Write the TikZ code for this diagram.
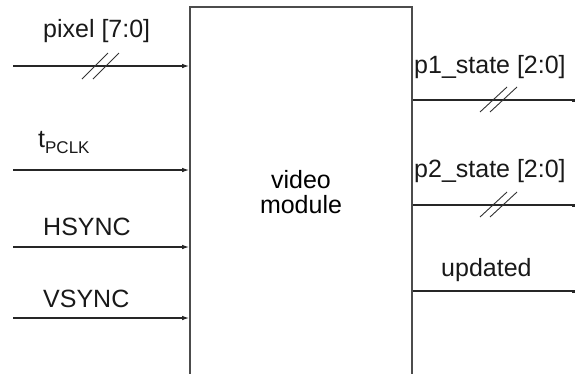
\documentclass[tikz,border=0pt]{standalone}
\usepackage{fontspec}
\setmainfont{Liberation Sans}
\usetikzlibrary{arrows.meta}
\begin{document}
\begin{tikzpicture}[x=1pt,y=-1pt,
  sig/.style={line width=1.2pt,draw=black!85},
  inarrow/.style={sig,-{Latex[length=7pt,width=4.5pt]}},
  outarrow/.style={sig,-{Square[length=3pt,width=3pt]}},
  lbl/.style={font=\fontsize{25}{30}\selectfont,inner sep=0pt,anchor=base west,text=black!90},
  slash/.style={line width=0.9pt,draw=black!80}]
\useasboundingbox (0,0) rectangle (577,373);
\node[draw=black!70,line width=1.6pt,minimum width=222pt,minimum height=370pt,inner sep=0pt,
  align=center,font=\fontsize{25}{25}\selectfont] (box) at (301,192) {video\\module};
% inputs
\coordinate (i1) at (13,66);
\coordinate (i2) at (13,170);
\coordinate (i3) at (13,247);
\coordinate (i4) at (13,318);
\draw[inarrow] (i1) -- (i1 -| box.west);
\draw[inarrow] (i2) -- (i2 -| box.west);
\draw[inarrow] (i3) -- (i3 -| box.west);
\draw[inarrow] (i4) -- (i4 -| box.west);
\node[lbl] (l1) at (43,37) {pixel [7:0]};
\node[lbl] (l2) at (38,147) {t\raisebox{-6pt}{\fontsize{17}{17}\selectfont PCLK}};
\node[lbl] (l3) at (43,235) {HSYNC};
\node[lbl] (l4) at (43,307) {VSYNC};
% slashes on pixel bus
\draw[slash] (82,79) -- (108,53);
\draw[slash] (93,79) -- (119,53);
% outputs
\coordinate (o1) at (575,100);
\coordinate (o2) at (575,205);
\coordinate (o3) at (575,291);
\draw[outarrow] (o1 -| box.east) -- (o1);
\draw[outarrow] (o2 -| box.east) -- (o2);
\draw[outarrow] (o3 -| box.east) -- (o3);
\node[lbl] (r1) at (414,73) {p1\_state [2:0]};
\node[lbl] (r2) at (414,177) {p2\_state [2:0]};
\node[lbl] (r3) at (441,276) {updated};
\draw[slash] (480,112) -- (507,87);
\draw[slash] (490,112) -- (517,87);
\draw[slash] (480,217) -- (507,192);
\draw[slash] (490,217) -- (517,192);
\end{tikzpicture}
\end{document}
